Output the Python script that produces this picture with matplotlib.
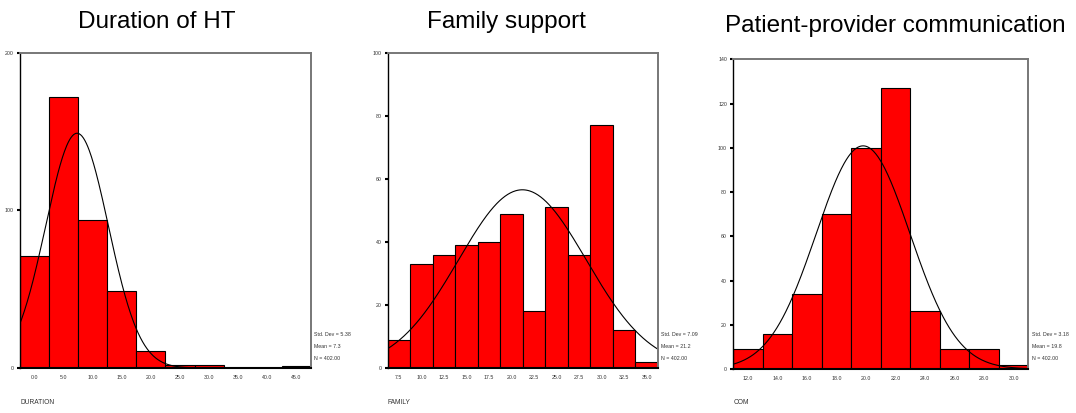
import numpy as np
import matplotlib
matplotlib.use("Agg")
import matplotlib.pyplot as plt

plt.rc('font', family='Liberation Sans')
small = ['Liberation Sans Narrow', 'Liberation Sans']

# Duration of HT
dur_centers = [0, 5, 10, 15, 20, 25, 30, 35, 40, 45]
dur_counts = [71, 172, 94, 49, 11, 2, 2, 0, 0, 1]
dur_ticks = ["0.0", "5.0", "10.0", "15.0", "20.0", "25.0", "30.0", "35.0", "40.0", "45.0"]
dur_stats = (5.38, 7.3, 402)

# Family support
fam_centers = [7.5, 10, 12.5, 15, 17.5, 20, 22.5, 25, 27.5, 30, 32.5, 35]
fam_counts = [9, 33, 36, 39, 40, 49, 18, 51, 36, 77, 12, 2]
fam_ticks = ["7.5", "10.0", "12.5", "15.0", "17.5", "20.0", "22.5", "25.0", "27.5", "30.0", "32.5", "35.0"]
fam_stats = (7.09, 21.2, 402)

# Patient-provider communication
com_centers = [12, 14, 16, 18, 20, 22, 24, 26, 28, 30]
com_counts = [9, 16, 34, 70, 100, 127, 26, 9, 9, 2]
com_ticks = ["12.0", "14.0", "16.0", "18.0", "20.0", "22.0", "24.0", "26.0", "28.0", "30.0"]
com_stats = (3.18, 19.8, 402)

fig = plt.figure(figsize=(10.76, 4.13), dpi=100)

panels = [
    dict(rect=[0.0186, 0.109, 0.2704, 0.7627], centers=dur_centers, counts=dur_counts,
         ticks=dur_ticks, width=5, stats=dur_stats, ymax=200, yt=[0, 100, 200],
         title="Duration of HT", ty=0.9315, tx=0.1455, xlabel="DURATION"),
    dict(rect=[0.3603, 0.109, 0.2512, 0.763], centers=fam_centers, counts=fam_counts,
         ticks=fam_ticks, width=2.5, stats=fam_stats, ymax=100, yt=[0, 20, 40, 60, 80, 100],
         title="Family support", ty=0.9315, tx=0.471, xlabel="FAMILY"),
    dict(rect=[0.6815, 0.1065, 0.2742, 0.75], centers=com_centers, counts=com_counts,
         ticks=com_ticks, width=2, stats=com_stats, ymax=140, yt=[0, 20, 40, 60, 80, 100, 120, 140],
         title="Patient-provider communication", ty=0.923, tx=0.8325, xlabel="COM"),
]

for p in panels:
    ax = fig.add_axes(p['rect'])
    w = p['width']
    c = p['centers']
    ax.bar(c, p['counts'], width=w, color='#ff0000', edgecolor='black', linewidth=0.8)
    lo, hi = c[0] - w / 2, c[-1] + w / 2
    sd, mean, n = p['stats']
    xs = np.linspace(lo, hi, 400)
    ys = n * w / (sd * np.sqrt(2 * np.pi)) * np.exp(-0.5 * ((xs - mean) / sd) ** 2)
    ax.plot(xs, ys, color='black', linewidth=0.8)
    ax.set_xlim(lo, hi)
    ax.set_ylim(0, p['ymax'])
    ax.set_xticks(c)
    ax.set_xticklabels(p['ticks'], fontsize=3.8, color='#333333', family=small)
    ax.set_yticks(p['yt'])
    ax.set_yticklabels([str(v) for v in p['yt']], fontsize=3.8, color='#333333', family=small)
    ax.tick_params(axis='x', length=0, pad=5)
    ax.tick_params(axis='y', length=2.5, width=1.5, pad=2, direction='out')
    for s in ['top', 'right']:
        ax.spines[s].set_color('#777777')
        ax.spines[s].set_linewidth(1.4)
    ax.spines['left'].set_color('black')
    ax.spines['left'].set_linewidth(1.0)
    ax.spines['bottom'].set_color('black')
    ax.spines['bottom'].set_linewidth(1.5)
    fig.text(p['tx'], p['ty'], p['title'], fontsize=17.5, ha='center', va='baseline')
    fig.text(p['rect'][0], 0.025, p['xlabel'], fontsize=4.8, color='#333333', ha='left',
             va='center', family=small)
    right = p['rect'][0] + p['rect'][2] + 0.003
    kw = dict(fontsize=3.8, color='#333333', va='center', family=small)
    fig.text(right, 0.191, "Std. Dev = %.2f" % sd, **kw)
    fig.text(right, 0.160, "Mean = %.1f" % mean, **kw)
    fig.text(right, 0.131, "N = %.2f" % n, **kw)

fig.savefig("out.png", dpi=100)
